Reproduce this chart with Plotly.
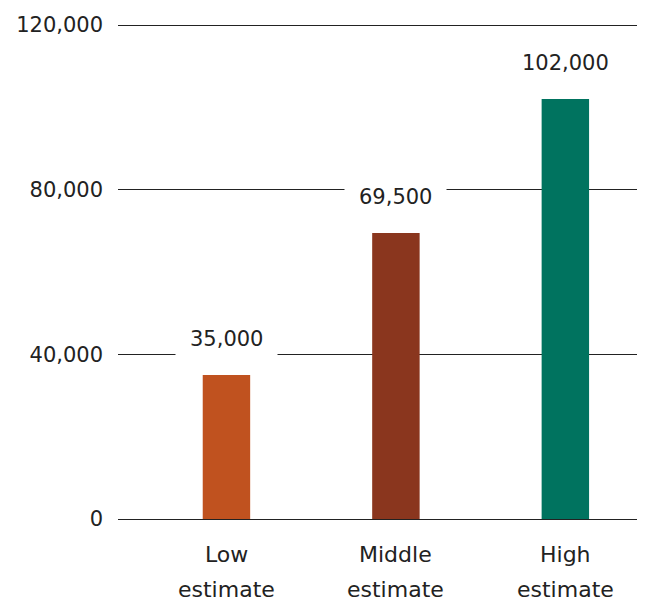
import plotly.graph_objects as go

categories = ["Low estimate", "Middle estimate", "High estimate"]
values = [35000, 69500, 102000]
value_labels = ["35,000", "69,500", "102,000"]
colors = ["#C0521F", "#8A361E", "#00735F"]
tick_vals = [0, 40000, 80000, 120000]
tick_text = ["0", "40,000", "80,000", "120,000"]

FONT = "DejaVu Sans"
TXT = "#222222"

# pixel padding so the edge gridlines (0 and 120,000) are drawn
PAD_PX = 5
PX_PER_UNIT = 494 / 120000
pad_units = PAD_PX / PX_PER_UNIT

fig = go.Figure(go.Bar(
    x=categories, y=values, marker=dict(color=colors, line=dict(width=0)),
    hoverinfo="skip",
))

ann = []
for c, v, lab in zip(categories, values, value_labels):
    ann.append(dict(x=c, y=v, xref="x", yref="y", text=lab, showarrow=False,
                    yanchor="bottom", yshift=9, bgcolor="white", borderpad=14,
                    font=dict(family=FONT, size=21, color=TXT)))
    first, second = c.split(" ", 1)
    ann.append(dict(x=c, y=0, xref="x", yref="y", text=first, showarrow=False,
                    yanchor="middle", yshift=-35, font=dict(family=FONT, size=22, color=TXT)))
    ann.append(dict(x=c, y=0, xref="x", yref="y", text=second, showarrow=False,
                    yanchor="middle", yshift=-70, font=dict(family=FONT, size=22, color=TXT)))

fig.update_layout(
    width=637, height=594,
    margin=dict(l=110, r=0, t=17 - PAD_PX, b=83 - PAD_PX),
    paper_bgcolor="white", plot_bgcolor="white",
    bargap=0.72,
    showlegend=False,
    font=dict(family=FONT, size=21, color=TXT),
    xaxis=dict(type="category", range=[-0.64, 2.47], showticklabels=False,
               showgrid=False, zeroline=False, showline=False, ticks=""),
    yaxis=dict(range=[-pad_units, 120000 + pad_units], tickvals=tick_vals, ticktext=tick_text,
               showgrid=True, gridcolor="#222222", gridwidth=1,
               zeroline=False, showline=False, ticks="",
               ticklabelstandoff=14, tickfont=dict(family=FONT, size=21, color=TXT)),
    annotations=ann,
)

fig.write_html("out.html")
